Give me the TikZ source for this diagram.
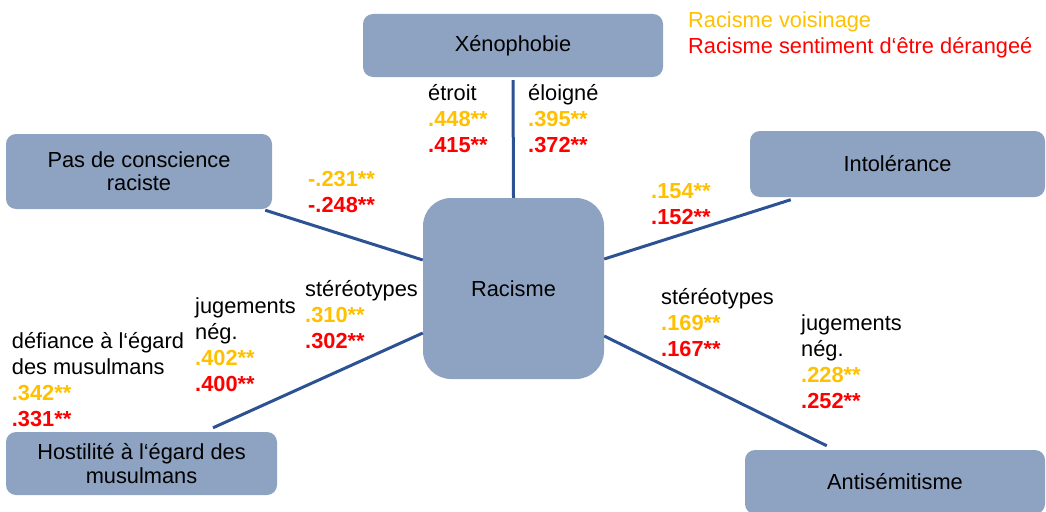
\documentclass[tikz,border=0pt]{standalone}
\usepackage{fontspec}
\setmainfont{Liberation Sans}
\usetikzlibrary{positioning,calc}
\definecolor{boxblue}{RGB}{142,163,193}
\definecolor{linkblue}{RGB}{44,82,148}
\definecolor{voisin}{RGB}{255,192,0}
\definecolor{derange}{RGB}{255,0,0}
\newcommand{\vs}[1]{\textcolor{voisin}{\textbf{#1}}}
\newcommand{\dr}[1]{\textcolor{derange}{\textbf{#1}}}
\tikzset{
  theme/.style={fill=boxblue,rounded corners=10pt,align=center,inner sep=0pt,
    font=\fontsize{21.8}{23.3}\selectfont},
  link/.style={linkblue,line width=3pt},
  lab/.style={anchor=base west,align=left,inner sep=0pt,
    font=\fontsize{21.8}{26}\selectfont}
}
\begin{document}
\begin{tikzpicture}[x=1pt,y=-1pt]
\useasboundingbox (0,0) rectangle (1046,511);
\clip (0,0) rectangle (1046,511);
% themes
\node[theme,minimum width=300pt,minimum height=63pt](xeno)at(513,45.5){Xénophobie};
\node[theme,minimum width=266pt,minimum height=75pt](pas)at(139,171.5){Pas de conscience\\raciste};
\node[theme,minimum width=295pt,minimum height=66pt](intol)at(897.5,164){Intolérance};
\node[theme,minimum width=181pt,minimum height=181pt,rounded corners=28pt](racisme)at(513.5,288.5){Racisme};
\node[theme,minimum width=271pt,minimum height=63pt](hostil)at(141.5,463.5){Hostilité à l‘égard des\\musulmans};
\node[theme,minimum width=300pt,minimum height=64pt](antisem)at(895,482){Antisémitisme};
% links
\draw[link]([yshift=-3pt]xeno.south)--(racisme.north);
\draw[link]([xshift=-7pt,yshift=-1pt]pas.south east)--([yshift=28.5pt]racisme.west);
\draw[link]([xshift=41pt,yshift=-2.5pt]intol.south west)--([yshift=29.5pt]racisme.east);
\draw[link]([xshift=71.5pt,yshift=4pt]hostil.north)--([yshift=-44.5pt]racisme.west);
\draw[link]([xshift=82pt,yshift=4pt]antisem.north west)--([yshift=-47.5pt]racisme.east);
% coefficients (base = last line)
\node[lab](etroit)at(428,152.7){étroit\\\vs{.448**}\\\dr{.415**}};
\node[lab](eloigne)at(528,152.7){éloigné\\\vs{.395**}\\\dr{.372**}};
\node[lab](pasval)at(308,212.7){\vs{-.231**}\\\dr{-.248**}};
\node[lab](intolval)at(651,224){\vs{.154**}\\\dr{.152**}};
\node[lab](stereol)at(305,348.3){stéréotypes\\\vs{.310**}\\\dr{.302**}};
\node[lab](jugl)at(195,391.7){jugements\\nég.\\\vs{.402**}\\\dr{.400**}};
\node[lab](defiance)at(11.7,426.7){défiance à l‘égard\\des musulmans\\\vs{.342**}\\\dr{.331**}};
\node[lab](stereor)at(661,356){stéréotypes\\\vs{.169**}\\\dr{.167**}};
\node[lab](jugr)at(801,408.3){jugements\\nég.\\\vs{.228**}\\\dr{.252**}};
% legend
\node[lab](legende)at(688,53.3){\textcolor{voisin}{Racisme voisinage}\\\textcolor{derange}{Racisme sentiment d‘être dérangeé}};
\end{tikzpicture}
\end{document}
